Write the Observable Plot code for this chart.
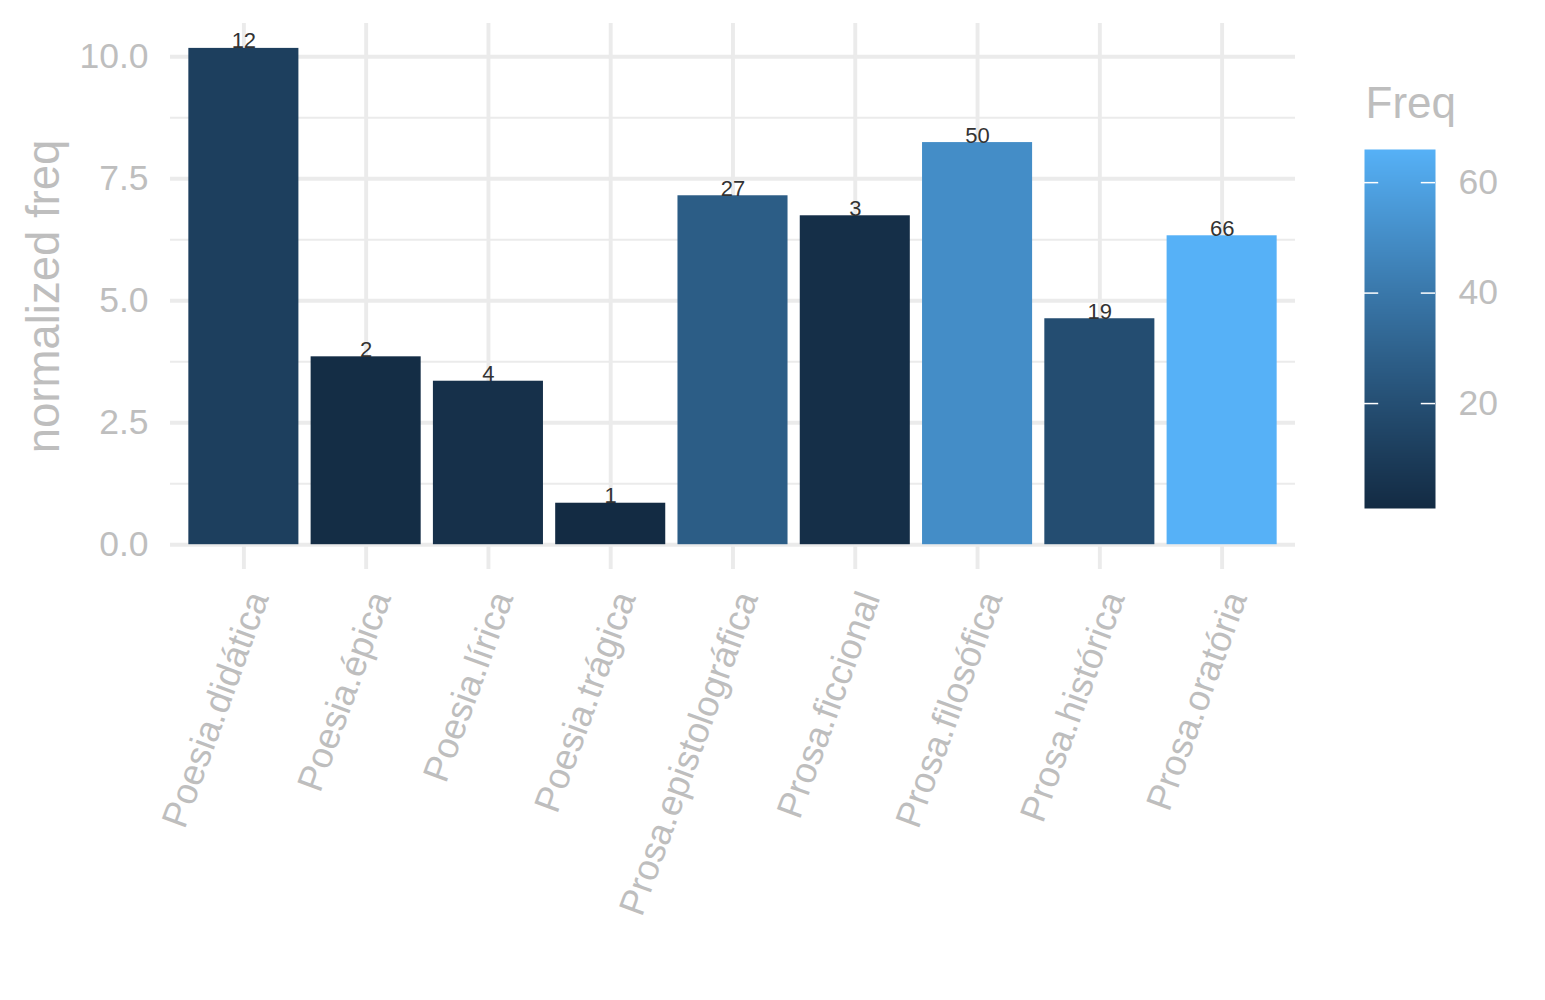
<!DOCTYPE html>
<html>
<head>
<meta charset="utf-8">
<script src="https://cdn.jsdelivr.net/npm/d3@7"></script>
<script src="https://cdn.jsdelivr.net/npm/@observablehq/plot@0.6"></script>
<style>
  html, body { margin: 0; padding: 0; background: white; }
  #wrap { position: relative; width: 1545px; height: 1000px; }
  #legend { position: absolute; left: 1340px; top: 0px; }
</style>
</head>
<body>
<div id="wrap"><div id="main"></div><div id="legend"></div></div>
<script>
const genres = ["Poesia.didática","Poesia.épica","Poesia.lírica","Poesia.trágica","Prosa.epistolográfica","Prosa.ficcional","Prosa.filosófica","Prosa.histórica","Prosa.oratória"];
const normFreq = [10.17, 3.85, 3.35, 0.85, 7.15, 6.74, 8.24, 4.63, 6.33];
const freq = [12, 2, 4, 1, 27, 3, 50, 19, 66];
const yTicks = [0, 2.5, 5, 7.5, 10];
const yMinor = [1.25, 3.75, 6.25, 8.75];
const legendTicks = [20, 40, 60];

const data = genres.map((g, i) => ({genre: g, norm: normFreq[i], freq: freq[i]}));

const font = "'Liberation Sans', Arial, Helvetica, sans-serif";
const grey = "#bebebe";
const gridColor = "#ebebeb";
const colorOpts = {type: "linear", domain: [1, 66], range: ["#132B43", "#56B1F7"], interpolate: "lab"};

const main = Plot.plot({
  width: 1545,
  height: 1000,
  marginLeft: 170,
  marginRight: 250,
  marginTop: 23,
  marginBottom: 431,
  style: {fontFamily: font, background: "white", overflow: "visible"},
  x: {type: "band", domain: genres, paddingInner: 0.1, paddingOuter: 0.15, round: false, axis: null},
  y: {domain: [-0.508, 10.68], axis: null},
  color: colorOpts,
  marks: [
    Plot.ruleY(yMinor, {stroke: gridColor, strokeWidth: 2}),
    Plot.ruleY(yTicks, {stroke: gridColor, strokeWidth: 3.9}),
    Plot.ruleX(genres, {stroke: gridColor, strokeWidth: 3.9}),
    Plot.barY(data, {x: "genre", y: "norm", fill: "freq"}),
    Plot.text(data, {x: "genre", y: "norm", text: d => String(d.freq), lineAnchor: "bottom", fontSize: 22, fill: "#333333"}),
    Plot.text(yTicks, {y: d => d, frameAnchor: "left", text: d3.format(".1f"), textAnchor: "end", dx: -22, fontSize: 35.5, fill: grey}),
    Plot.text(genres, {x: d => d, frameAnchor: "bottom", rotate: -70, textAnchor: "end", lineAnchor: "top", dy: 19, dx: 1, fontSize: 36.5, fill: grey}),
    Plot.text(["normalized freq"], {frameAnchor: "left", rotate: -90, textAnchor: "middle", dx: -126, fontSize: 45.5, fill: grey})
  ]
});
document.getElementById("main").appendChild(main);

const legend = Plot.plot({
  width: 205,
  height: 560,
  marginLeft: 24,
  marginRight: 110,
  marginTop: 149,
  marginBottom: 52,
  style: {fontFamily: font, background: "transparent", overflow: "visible"},
  x: {domain: [0, 1], axis: null},
  y: {domain: [1, 66], axis: null},
  color: colorOpts,
  marks: [
    Plot.raster({x1: 0, x2: 1, y1: 1, y2: 66, fill: (x, y) => y, pixelSize: 1}),
    Plot.ruleY(legendTicks, {x1: 0, x2: 0.2, stroke: "white", strokeWidth: 1.5}),
    Plot.ruleY(legendTicks, {x1: 0.8, x2: 1, stroke: "white", strokeWidth: 1.5}),
    Plot.text(legendTicks, {y: d => d, x: 1, dx: 23, textAnchor: "start", fontSize: 35.5, fill: grey}),
    Plot.text(["Freq"], {frameAnchor: "top-left", dx: 1, dy: -32, textAnchor: "start", lineAnchor: "bottom", fontSize: 44, fill: grey})
  ]
});
document.getElementById("legend").appendChild(legend);
</script>
</body>
</html>
